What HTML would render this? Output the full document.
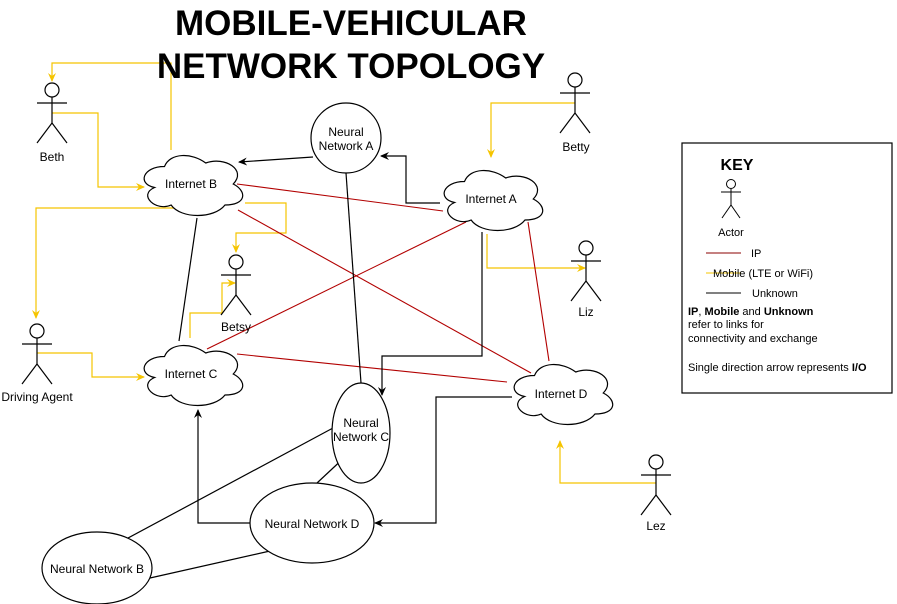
<!DOCTYPE html>
<html><head><meta charset="utf-8"><style>
html,body{margin:0;padding:0;background:#fff;}
svg{display:block;font-family:"Liberation Sans",Arial,sans-serif;}
</style></head><body>
<svg width="897" height="604" viewBox="0 0 897 604" xmlns="http://www.w3.org/2000/svg">
<defs>
<path id="cloud" d="M27.5,17.5 C5.5,17.5 0,35 17.6,38.5 C0,46.2 19.8,63 34.1,56 C44,70 77,70 88,56 C110,56 110,42 96.25,35 C110,21 88,7 68.75,14 C55,3.5 33,3.5 27.5,17.5 Z" fill="#fff" stroke="#000" stroke-width="1.2"/>
<marker id="ab" markerWidth="10" markerHeight="10" refX="8" refY="5" orient="auto" markerUnits="userSpaceOnUse"><path d="M0,1 L9,5 L0,9 L3,5 Z" fill="#000"/></marker>
<marker id="ay" markerWidth="10" markerHeight="10" refX="8" refY="5" orient="auto" markerUnits="userSpaceOnUse"><path d="M0,1 L9,5 L0,9 L3,5 Z" fill="#f5c400"/></marker>
<g id="actor" fill="none" stroke="#000" stroke-width="1.2">
<circle cx="0" cy="0" r="7" fill="#fff"/><line x1="0" y1="7" x2="0" y2="33"/><line x1="-15" y1="13" x2="15" y2="13"/><line x1="0" y1="33" x2="-15" y2="53"/><line x1="0" y1="33" x2="15" y2="53"/>
</g>
</defs>

<g fill="none" stroke="#f5c400" stroke-width="1.2">
<polyline points="171,150 171,63 52,63 52,81" marker-end="url(#ay)"/>
<polyline points="52,113 98,113 98,187 144,187" marker-end="url(#ay)"/>
<polyline points="180,208 36,208 36,318" marker-end="url(#ay)"/>
<polyline points="37,353 92,353 92,377 144,377" marker-end="url(#ay)"/>
<polyline points="245,203 286,203 286,233 236,233 236,252" marker-end="url(#ay)"/>
<polyline points="190,338 190,313 222,313 222,283 235,283" marker-end="url(#ay)"/>
<polyline points="575,103 491,103 491,157" marker-end="url(#ay)"/>
<polyline points="487,234 487,268 585,268" marker-end="url(#ay)"/>
<polyline points="656,483 560,483 560,441" marker-end="url(#ay)"/>
</g>

<text x="351" y="35" font-size="35" font-weight="bold" text-anchor="middle">MOBILE-VEHICULAR</text>
<text x="351" y="78" font-size="35" font-weight="bold" text-anchor="middle">NETWORK TOPOLOGY</text>

<g stroke="#b20000" stroke-width="1.1">
<line x1="237" y1="184" x2="443" y2="211"/>
<line x1="238" y1="210" x2="531" y2="373"/>
<line x1="207" y1="349" x2="466" y2="222"/>
<line x1="237" y1="354" x2="507" y2="382"/>
<line x1="528" y1="222" x2="549" y2="361"/>
</g>

<g fill="none" stroke="#000" stroke-width="1.2">
<line x1="313" y1="157" x2="239" y2="162" marker-end="url(#ab)"/>
<polyline points="440,203 406,203 406,156 381,156" marker-end="url(#ab)"/>
<line x1="346" y1="173" x2="361" y2="383"/>
<polyline points="482,232 482,356 382,356 382,395" marker-end="url(#ab)"/>
<line x1="197" y1="218" x2="179" y2="341"/>
<polyline points="512,397 436,397 436,523 375,523" marker-end="url(#ab)"/>
<polyline points="250,523 198,523 198,410" marker-end="url(#ab)"/>
<line x1="333" y1="428" x2="115" y2="545"/>
<line x1="347" y1="455" x2="317" y2="483"/>
<line x1="150" y1="578" x2="270" y2="551"/>
</g>

<use href="#cloud" x="137" y="149"/>
<use href="#cloud" x="137" y="339"/>
<use href="#cloud" x="437" y="164"/>
<use href="#cloud" x="507" y="358"/>
<g font-size="12" text-anchor="middle">
<text x="191" y="188">Internet B</text>
<text x="191" y="378">Internet C</text>
<text x="491" y="203">Internet A</text>
<text x="561" y="398">Internet D</text>
</g>

<g fill="#fff" stroke="#000" stroke-width="1.2">
<circle cx="346" cy="138" r="35"/>
<ellipse cx="361" cy="433" rx="29" ry="50"/>
<ellipse cx="312" cy="523" rx="62" ry="40"/>
<ellipse cx="97" cy="568" rx="55" ry="36"/>
</g>
<g font-size="12" text-anchor="middle">
<text x="346" y="136">Neural</text><text x="346" y="150">Network A</text>
<text x="361" y="427">Neural</text><text x="361" y="441">Network C</text>
<text x="312" y="528">Neural Network D</text>
<text x="97" y="573">Neural Network B</text>
</g>

<use href="#actor" x="52" y="90"/>
<use href="#actor" x="575" y="80"/>
<use href="#actor" x="236" y="262"/>
<use href="#actor" x="586" y="248"/>
<use href="#actor" x="37" y="331"/>
<use href="#actor" x="656" y="462"/>
<g font-size="12" text-anchor="middle">
<text x="52" y="161">Beth</text>
<text x="576" y="151">Betty</text>
<text x="236" y="331">Betsy</text>
<text x="586" y="316">Liz</text>
<text x="37" y="401">Driving Agent</text>
<text x="656" y="530">Lez</text>
</g>

<rect x="682" y="143" width="210" height="250" fill="#fff" stroke="#000" stroke-width="1.2"/>
<text x="737" y="170" font-size="16" font-weight="bold" text-anchor="middle">KEY</text>
<g fill="none" stroke="#000" stroke-width="1">
<circle cx="731" cy="184" r="4.5" fill="#fff"/><line x1="731" y1="189" x2="731" y2="205"/><line x1="721" y1="192" x2="741" y2="192"/><line x1="731" y1="205" x2="722" y2="218"/><line x1="731" y1="205" x2="740" y2="218"/>
</g>
<text x="731" y="236" font-size="11" text-anchor="middle">Actor</text>
<line x1="706" y1="253" x2="741" y2="253" stroke="#8b0000" stroke-width="1"/>
<text x="751" y="257" font-size="11">IP</text>
<line x1="706" y1="273" x2="741" y2="273" stroke="#f5c400" stroke-width="1"/>
<text x="713" y="277" font-size="11">Mobile (LTE or WiFi)</text>
<line x1="706" y1="293" x2="741" y2="293" stroke="#000" stroke-width="1"/>
<text x="752" y="297" font-size="11">Unknown</text>
<g font-size="11">
<text x="688" y="315"><tspan font-weight="bold">IP</tspan>, <tspan font-weight="bold">Mobile</tspan> and <tspan font-weight="bold">Unknown</tspan></text>
<text x="688" y="328">refer to links for</text>
<text x="688" y="342">connectivity and exchange</text>
<text x="688" y="371">Single direction arrow represents <tspan font-weight="bold">I/O</tspan></text>
</g>
</svg>
</body></html>
